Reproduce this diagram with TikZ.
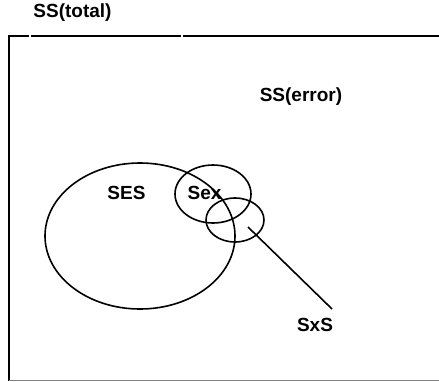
\documentclass[tikz,border=0pt]{standalone}
\usepackage{fontspec}
\setmainfont{Liberation Sans}
\usepackage{tikz}
\usetikzlibrary{positioning, calc}

\tikzset{
  lbl/.style={font=\fontsize{19}{21}\selectfont\bfseries, inner sep=1pt},
  ring/.style={draw=black, line width=1.6pt}
}

\begin{document}
\begin{tikzpicture}[x=1pt, y=-1pt]
  \useasboundingbox (0,0) rectangle (439,381);

  % Frame of the total
  \draw[line width=2pt] (9,36) -- (29,36);
  \draw[line width=2pt] (31,36) -- (181,36);
  \draw[line width=2pt] (183,36) -- (439,36);
  \draw[line width=2.4pt] (9,35) -- (9,381);
  \draw[gray, line width=1pt] (9,380) -- (439,380);

  % Regions
  \draw[ring] (140,236) ellipse [x radius=95, y radius=73];
  \draw[ring] (213,194) ellipse [x radius=38, y radius=29];
  \draw[ring] (235,220) ellipse [x radius=29, y radius=22];

  % Labels
  \node[lbl] (total) at (72.5,13) {SS(total)};
  \node[lbl] (error) at (301,97) {SS(error)};
  \node[lbl] (ses) at (126.5,193) {SES};
  \node[lbl] (sex) at (204.5,193) {Sex};
  \node[lbl] (sxs) at (315,325) {SxS};

  % Pointer to the interaction
  \coordinate (sxstip) at (248,227);
  \coordinate (sxsend) at (332,309);
  \draw[line width=1.6pt] (sxstip) -- (sxsend);
\end{tikzpicture}
\end{document}
